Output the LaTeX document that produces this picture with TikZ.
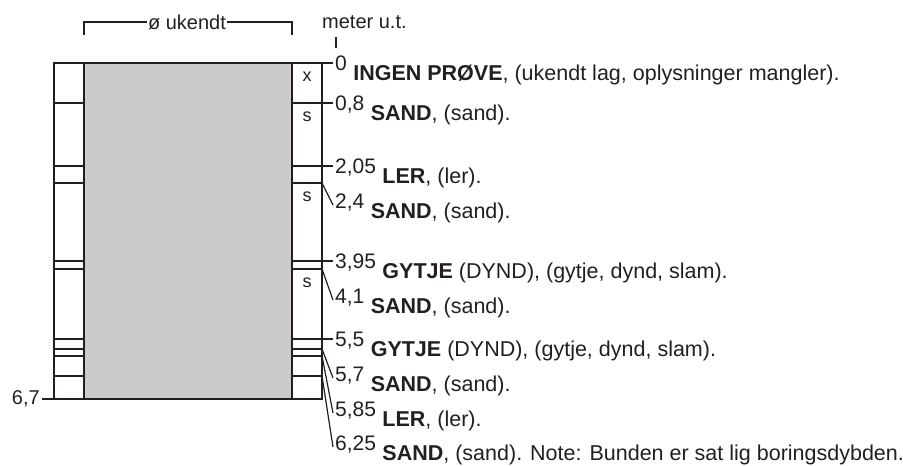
\documentclass[tikz,border=0pt]{standalone}
\usepackage{fontspec}
\setmainfont{Liberation Sans}
\definecolor{ink}{RGB}{35,31,32}
\definecolor{core}{RGB}{204,202,203}
\begin{document}
\begin{tikzpicture}[x=1pt,y=-1pt,
  every node/.style={text=ink,font=\fontsize{20}{24}\selectfont},
  col/.style={draw=ink,line width=1.8pt},
  tick/.style={draw=ink,line width=1.2pt},
  numlbl/.style={anchor=base west,inner sep=0pt,font=\fontsize{21}{25}\selectfont},
  bodylbl/.style={anchor=base west,inner sep=0pt,font=\fontsize{21.5}{25}\selectfont},
  boxlbl/.style={anchor=base,inner sep=0pt,font=\fontsize{18}{21}\selectfont}]
\useasboundingbox (0,0) rectangle (903,466);

% core (unknown diameter) and the two side columns
\fill[core] (84,63) rectangle (292,399);
\draw[col] (54,63) rectangle (322,399);
\draw[col] (84,63) -- (84,399);
\draw[col] (292,63) -- (292,399);

% layer boundaries in the side columns (depth in m, 50.15 px per m)
\foreach \d in {0.8,2.05,2.4,3.95,4.1,5.5,5.7,5.85,6.25}{
  \pgfmathsetmacro{\yy}{round(63+\d*50.15)}
  \draw[col] (54,\yy) -- (84,\yy);
  \draw[col] (292,\yy) -- (322,\yy);
}

% sample marks
\node[boxlbl] (m1) at (307,81) {x};
\node[boxlbl] (m2) at (307,121) {s};
\node[boxlbl] (m3) at (307,201) {s};
\node[boxlbl] (m4) at (307,287) {s};

% diameter bracket
\node[fill=white,inner sep=0.6pt] (dia) at (187,22) {ø ukendt};
\draw[col,line width=1.4pt] (84,35) |- (dia.west);
\draw[col,line width=1.4pt] (292,35) |- (dia.east);

% depth unit header
\node[anchor=west,inner sep=0pt] (unit) at (322,22) {meter u.t.};
\coordinate (ut) at (336,37);
\coordinate (ub) at (336,48);
\draw[tick] (ut) -- (ub);

% final depth on the left
\node[anchor=east,inner sep=0pt] (bot) at (40,399) {6,7};
\coordinate (botc) at (54,399);
\draw[tick] (bot.east) ++(2pt,0) -- (botc);

% layer labels: depth / label level / tick end / number / description
\foreach \d/\ly/\ey/\num/\txt [count=\i] in {
  0/63/63/{0}/{\textbf{INGEN PRØVE}, (ukendt lag, oplysninger mangler).},
  0.8/103/103/{0,8}/{\textbf{SAND}, (sand).},
  2.05/166/166/{2,05}/{\textbf{LER}, (ler).},
  2.4/201/205/{2,4}/{\textbf{SAND}, (sand).},
  3.95/261/261/{3,95}/{\textbf{GYTJE} (DYND), (gytje, dynd, slam).},
  4.1/296/300/{4,1}/{\textbf{SAND}, (sand).},
  5.5/339/339/{5,5}/{\textbf{GYTJE} (DYND), (gytje, dynd, slam).},
  5.7/374/378/{5,7}/{\textbf{SAND}, (sand).},
  5.85/409/413/{5,85}/{\textbf{LER}, (ler).},
  6.25/443/447/{6,25}/{\textbf{SAND}, (sand). Note: Bunden er sat lig boringsdybden.}}{
  \pgfmathsetmacro{\yy}{round(63+\d*50.15)}
  \coordinate (d\i) at (322,\yy);
  \coordinate (e\i) at (333,\ey);
  \node[numlbl] (n\i) at (335,\ly+7) {\num};
  \node[bodylbl] (t\i) at ([xshift=6pt,yshift=-10pt]n\i.base east) {\txt};
  \draw[tick] (d\i) -- (e\i);
}
\end{tikzpicture}
\end{document}
